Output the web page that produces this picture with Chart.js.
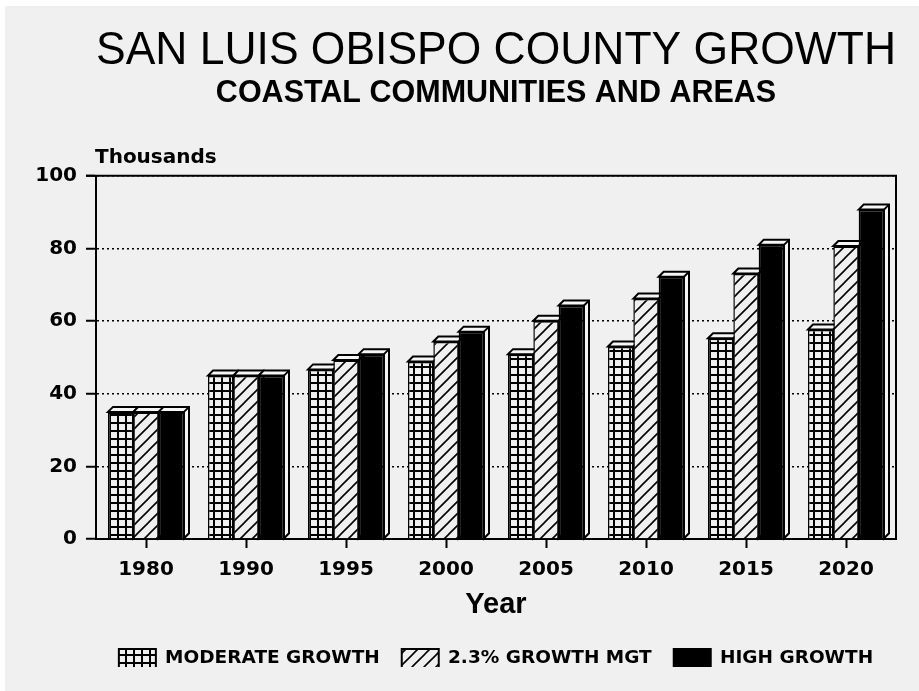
<!DOCTYPE html>
<html>
<head>
<meta charset="utf-8">
<script src="https://cdn.jsdelivr.net/npm/chart.js@4.4.1/dist/chart.umd.min.js"></script>
<style>
  html, body { margin: 0; padding: 0; background: #fff; }
  #wrap { position: absolute; left: 5px; top: 6px; width: 914px; height: 685px; background: #f0f0f0; }
</style>
</head>
<body>
<div id="wrap"><canvas id="growth" width="914" height="685"></canvas></div>
<script>
// Population in thousands.
const years = ['1980', '1990', '1995', '2000', '2005', '2010', '2015', '2020'];
const moderateGrowth = [35, 45, 46.7, 48.9, 50.9, 53, 55.3, 57.7];
const mgtGrowth = [35, 45, 49.3, 54.4, 60.1, 66.2, 73.1, 80.7];
const highGrowth = [35, 45, 50.9, 57.1, 64.3, 72.2, 81, 90.7];
const seriesNames = ['MODERATE GROWTH', '2.3% GROWTH MGT', 'HIGH GROWTH'];

const BG = '#f0f0f0';
const DEPTH = 5;
const canvas = document.getElementById('growth');
const ctx = canvas.getContext('2d');

// small grid fill for the moderate series
function gridPattern() {
  const c = document.createElement('canvas');
  c.width = 8; c.height = 8;
  const g = c.getContext('2d');
  g.fillStyle = BG; g.fillRect(0, 0, 8, 8);
  g.fillStyle = '#000';
  g.fillRect(0, 0, 2, 8);
  g.fillRect(0, 0, 8, 2);
  return ctx.createPattern(c, 'repeat');
}

// "/" hatching for the 2.3% series
function hatchPattern() {
  const s = 12;
  const c = document.createElement('canvas');
  c.width = s; c.height = s;
  const g = c.getContext('2d');
  g.fillStyle = BG; g.fillRect(0, 0, s, s);
  g.strokeStyle = '#000';
  g.lineWidth = 1.6;
  g.beginPath();
  g.moveTo(-1, s + 1); g.lineTo(s + 1, -1);
  g.moveTo(-1, 1); g.lineTo(1, -1);
  g.moveTo(s - 1, s + 1); g.lineTo(s + 1, s - 1);
  g.stroke();
  return ctx.createPattern(c, 'repeat');
}

const DejaVu = 'DejaVu Sans, Verdana, sans-serif';
const Helv = 'Liberation Sans, Arial, Helvetica, sans-serif';

// top + side faces behind each bar, drawn before the fronts
const extrude = {
  id: 'extrude',
  beforeDatasetsDraw(chart) {
    const c = chart.ctx;
    c.save();
    c.lineWidth = 2;
    c.strokeStyle = '#000';
    c.fillStyle = '#f6f6f6';
    chart.data.datasets.forEach((ds, i) => {
      chart.getDatasetMeta(i).data.forEach(bar => {
        const { x, y, base, width } = bar.getProps(['x', 'y', 'base', 'width'], true);
        const l = x - width / 2, r = x + width / 2;
        c.beginPath();
        c.moveTo(l, y);
        c.lineTo(l + DEPTH, y - DEPTH);
        c.lineTo(r + DEPTH, y - DEPTH);
        c.lineTo(r + DEPTH, base - DEPTH);
        c.lineTo(r, base);
        c.lineTo(r, y);
        c.closePath();
        c.fill();
        c.stroke();
        c.beginPath();
        c.moveTo(r, y);
        c.lineTo(r + DEPTH, y - DEPTH);
        c.stroke();
      });
    });
    c.restore();
  }
};

// solid frame at 100 and on the right, plus the "Thousands" unit label
const frame = {
  id: 'frame',
  beforeDatasetsDraw(chart) {
    const c = chart.ctx;
    const a = chart.chartArea;
    c.save();
    c.strokeStyle = '#000';
    c.lineWidth = 2;
    c.beginPath();
    c.moveTo(a.left - 10, a.top);
    c.lineTo(a.right, a.top);
    c.lineTo(a.right, a.bottom);
    c.stroke();
    c.fillStyle = '#000';
    c.font = 'bold 20px ' + DejaVu;
    c.textAlign = 'left';
    c.textBaseline = 'alphabetic';
    c.fillText('Thousands', a.left - 1, a.top - 13);
    c.restore();
  }
};

const barStyle = {
  borderColor: '#000',
  borderWidth: { top: 2, left: 1.5, right: 1.5, bottom: 0 },
  borderSkipped: false,
  categoryPercentage: 0.76,
  barPercentage: 1.0
};

new Chart(ctx, {
  type: 'bar',
  data: {
    labels: years,
    datasets: [
      { label: seriesNames[0], data: moderateGrowth, backgroundColor: gridPattern(), ...barStyle },
      { label: seriesNames[1], data: mgtGrowth, backgroundColor: hatchPattern(), ...barStyle },
      { label: seriesNames[2], data: highGrowth, backgroundColor: '#000', ...barStyle }
    ]
  },
  options: {
    responsive: false,
    animation: false,
    devicePixelRatio: 1,
    layout: { padding: { left: 0, right: 23, top: 0, bottom: 24 } },
    scales: {
      x: {
        grid: {
          display: true,
          offset: false,
          drawOnChartArea: false,
          drawTicks: true,
          tickLength: 9,
          tickWidth: 2,
          tickColor: '#000'
        },
        border: { display: true, color: '#000', width: 2 },
        ticks: { color: '#000', padding: 10, font: { family: DejaVu, size: 20, weight: 'bold' } },
        title: {
          display: true,
          text: 'Year',
          color: '#000',
          font: { family: Helv, size: 29, weight: 'bold', lineHeight: 0.5 },
          padding: { top: 5.5, bottom: 15 }
        }
      },
      y: {
        min: 0,
        max: 100,
        ticks: { stepSize: 20, color: '#000', padding: 9, font: { family: DejaVu, size: 20, weight: 'bold' } },
        grid: {
          color: '#000',
          lineWidth: 1.5,
          tickLength: 10,
          tickWidth: 2,
          tickColor: '#000',
          tickBorderDash: []
        },
        border: { display: true, color: '#000', width: 2, dash: [2, 3] },
        afterFit(scale) { scale.width = 91; }
      }
    },
    plugins: {
      tooltip: { enabled: false },
      title: {
        display: true,
        fullSize: false,
        text: 'SAN LUIS OBISPO COUNTY GROWTH',
        color: '#000',
        font: { family: Helv, size: 46, weight: 'normal', lineHeight: 1.1 },
        padding: { top: 20, bottom: 0 }
      },
      subtitle: {
        display: true,
        fullSize: false,
        text: 'COASTAL COMMUNITIES AND AREAS',
        color: '#000',
        font: { family: Helv, size: 30.5, weight: 'bold', lineHeight: 1.1 },
        padding: { top: 0, bottom: 65.7 }
      },
      legend: {
        position: 'bottom',
        fullSize: false,
        maxHeight: 40,
        labels: {
          color: '#000',
          boxWidth: 37,
          boxHeight: 19,
          padding: 22,
          font: { family: DejaVu, size: 18.5, weight: 'bold' },
          generateLabels(chart) {
            return Chart.defaults.plugins.legend.labels.generateLabels(chart)
              .map(item => ({ ...item, lineWidth: 2, strokeStyle: '#000' }));
          }
        }
      }
    }
  },
  plugins: [frame, extrude]
});
</script>
</body>
</html>
